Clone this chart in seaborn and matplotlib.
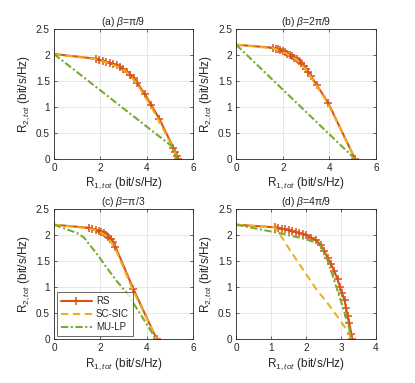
import numpy as np
import pandas as pd
import matplotlib
matplotlib.use("Agg")
import matplotlib.pyplot as plt
import seaborn as sns

# (a) beta = pi/9
a_rs_x = [0, 1.8, 1.95, 2.1, 2.25, 2.4, 2.55, 2.7, 2.85, 3.0, 3.15, 3.3, 3.45, 3.6, 3.92, 4.2, 4.55, 5.15, 5.24, 5.3, 5.34]
a_rs_y = [2.02, 1.93, 1.91, 1.89, 1.87, 1.85, 1.83, 1.8, 1.77, 1.73, 1.68, 1.62, 1.55, 1.46, 1.25, 1.04, 0.77, 0.22, 0.13, 0.06, 0]
a_sc_x = [0, 1.8, 2.4, 3.0, 3.3, 3.6, 3.9, 4.2, 4.5, 5.15, 5.34]
a_sc_y = [2.02, 1.92, 1.84, 1.72, 1.6, 1.43, 1.22, 1.0, 0.76, 0.2, 0]
a_mu_x = [0, 5.1, 5.3]
a_mu_y = [2.02, 0.24, 0]

# (b) beta = 2pi/9
b_rs_x = [0, 1.6, 1.7, 1.8, 1.9, 2.0, 2.1, 2.2, 2.3, 2.4, 2.5, 2.6, 2.7, 2.8, 2.9, 3.0, 3.1, 3.2, 3.45, 3.95, 5.1]
b_rs_y = [2.2, 2.14, 2.12, 2.11, 2.09, 2.07, 2.05, 2.03, 2.01, 1.98, 1.95, 1.92, 1.88, 1.84, 1.79, 1.74, 1.67, 1.6, 1.43, 1.08, 0]
b_sc_x = [0, 1.6, 2.2, 2.6, 3.0, 3.2, 3.95, 5.1]
b_sc_y = [2.2, 2.13, 2.02, 1.91, 1.72, 1.58, 1.06, 0]
b_mu_x = [0, 5.1]
b_mu_y = [2.2, 0]

# (c) beta = pi/3
c_rs_x = [0, 1.5, 1.65, 1.8, 1.95, 2.05, 2.15, 2.25, 2.35, 2.45, 2.55, 2.65, 3.43, 4.43]
c_rs_y = [2.2, 2.14, 2.12, 2.1, 2.08, 2.06, 2.04, 2.01, 1.97, 1.92, 1.86, 1.78, 0.96, 0]
c_sc_x = [0, 1.5, 2.0, 2.3, 2.5, 2.65, 3.4, 4.43]
c_sc_y = [2.2, 2.13, 2.06, 1.97, 1.84, 1.74, 0.95, 0]
c_mu_x = [0, 1.0, 1.3, 1.6, 1.9, 2.15, 2.45, 2.7, 3.15, 3.7, 4.4]
c_mu_y = [2.2, 2.04, 1.95, 1.78, 1.61, 1.45, 1.27, 1.12, 0.88, 0.5, 0]

# (d) beta = 4pi/9
d_rs_x = [0, 1.1, 1.2, 1.3, 1.4, 1.5, 1.6, 1.7, 1.8, 1.9, 2.0, 2.14, 2.29, 2.43, 2.52, 2.62, 2.71, 2.81, 2.9, 2.97, 3.03, 3.1, 3.14, 3.19, 3.24, 3.29, 3.31]
d_rs_y = [2.2, 2.15, 2.14, 2.12, 2.11, 2.09, 2.07, 2.06, 2.04, 2.02, 2.0, 1.95, 1.9, 1.8, 1.7, 1.55, 1.45, 1.3, 1.15, 1.0, 0.88, 0.75, 0.6, 0.45, 0.3, 0.1, 0]
d_sc_x = [0, 1.1, 1.19, 1.52, 1.9, 2.29, 2.67, 2.95, 3.24, 3.29]
d_sc_y = [2.2, 2.15, 2.08, 1.73, 1.35, 0.96, 0.64, 0.38, 0.1, 0]
d_mu_x = [0, 1.3, 2.0, 2.38, 2.57, 2.76, 2.95, 3.1, 3.24, 3.29]
d_mu_y = [2.2, 2.03, 1.92, 1.83, 1.6, 1.22, 0.83, 0.51, 0.19, 0]

titles = ["(a) $\\it{\\beta}$=π/9", "(b) $\\it{\\beta}$=2π/9", "(c) $\\it{\\beta}$=π/3", "(d) $\\it{\\beta}$=4π/9"]
xmax = [6, 6, 6, 4]
panels = [
    (a_rs_x, a_rs_y, a_sc_x, a_sc_y, a_mu_x, a_mu_y),
    (b_rs_x, b_rs_y, b_sc_x, b_sc_y, b_mu_x, b_mu_y),
    (c_rs_x, c_rs_y, c_sc_x, c_sc_y, c_mu_x, c_mu_y),
    (d_rs_x, d_rs_y, d_sc_x, d_sc_y, d_mu_x, d_mu_y),
]

sns.set_theme(style="whitegrid")
plt.rcParams["font.family"] = ["Liberation Sans", "DejaVu Sans"]
plt.rcParams["mathtext.fontset"] = "custom"
plt.rcParams["mathtext.rm"] = "Liberation Sans"
plt.rcParams["mathtext.it"] = "Liberation Sans:italic"

c_rs = "#D95319"
c_sc = "#EDB120"
c_mu = "#77AC30"

fig = plt.figure(figsize=(4.15, 3.83), dpi=100)
pos = [
    [0.130, 0.585, 0.335, 0.339],
    [0.569, 0.585, 0.337, 0.339],
    [0.130, 0.115, 0.335, 0.339],
    [0.569, 0.115, 0.337, 0.339],
]

for i, (rx, ry, sx, sy, mx, my) in enumerate(panels):
    ax = fig.add_axes(pos[i])
    sns.lineplot(x=rx, y=ry, ax=ax, sort=False, estimator=None, color=c_rs,
                 linewidth=1.5, marker="+", markersize=5.5, markeredgewidth=1.1,
                 markeredgecolor=c_rs, label="RS")
    sns.lineplot(x=sx, y=sy, ax=ax, sort=False, estimator=None, color=c_sc,
                 linewidth=1.5, linestyle=(0, (3.5, 2.2)), label="SC-SIC")
    sns.lineplot(x=mx, y=my, ax=ax, sort=False, estimator=None, color=c_mu,
                 linewidth=1.5, linestyle=(0, (3.5, 1.2, 1, 1.2)), label="MU-LP")
    ax.set_xlim(0, xmax[i])
    ax.set_ylim(0, 2.5)
    ax.set_xticks(np.arange(0, xmax[i] + 0.1, 2 if xmax[i] == 6 else 1))
    ax.set_yticks([0, 0.5, 1, 1.5, 2, 2.5])
    ax.set_yticklabels(["0", "0.5", "1", "1.5", "2", "2.5"])
    ax.set_title(titles[i], fontsize=7.5, pad=3)
    ax.set_xlabel("R$_{1,tot}$ (bit/s/Hz)", fontsize=8.5, labelpad=2)
    ax.set_ylabel("R$_{2,tot}$ (bit/s/Hz)", fontsize=8.5, labelpad=3)
    ax.tick_params(labelsize=7.2, direction="in", length=2.5, width=0.5,
                   pad=3, colors="#262626", top=True, right=True,
                   bottom=True, left=True)
    ax.grid(True, color="#e3e3e3", linewidth=0.6)
    for sp in ax.spines.values():
        sp.set_color("#262626")
        sp.set_linewidth(0.6)
    if i == 2:
        leg = ax.legend(loc="lower left", fontsize=7, frameon=True, fancybox=False,
                        handlelength=3.2, borderpad=0.4, labelspacing=0.3,
                        handletextpad=0.4, borderaxespad=0.3)
        leg.get_frame().set_edgecolor("#262626")
        leg.get_frame().set_linewidth(0.6)
    else:
        ax.get_legend().remove()

fig.savefig("out.png", dpi=100)
